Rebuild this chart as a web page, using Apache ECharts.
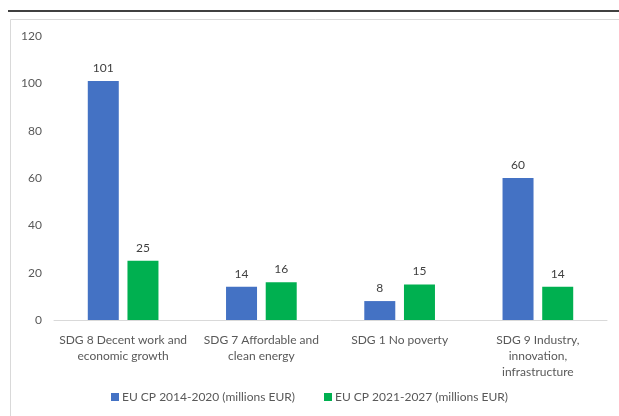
<!DOCTYPE html>
<html><head><meta charset="utf-8">
<script src="https://cdn.jsdelivr.net/npm/echarts@6/dist/echarts.min.js"></script>
<style>html,body{margin:0;padding:0;background:#fff}#c{width:619px;height:416px}</style>
</head><body><div id="c"></div>
<script>
var categories = ["SDG 8 Decent work and\neconomic growth", "SDG 7 Affordable and\nclean energy", "SDG 1 No poverty", "SDG 9 Industry,\ninnovation,\ninfrastructure"];
var series2014 = [101, 14, 8, 60];
var series2021 = [25, 16, 15, 14];
var seriesNames = ["EU CP 2014-2020 (millions EUR)", "EU CP 2021-2027 (millions EUR)"];
var yTicks = {min: 0, max: 120, interval: 20};

var chart = echarts.init(document.getElementById('c'));
var font = 'Lato, "Open Sans", sans-serif';
chart.setOption({
  animation: false,
  textStyle: {fontFamily: font},
  graphic: [
    {type: 'line', shape: {x1: 8, y1: 11, x2: 619, y2: 11}, style: {stroke: '#000', lineWidth: 1.5}},
    {type: 'rect', shape: {x: 10.5, y: 19.5, width: 700, height: 500}, style: {fill: 'none', stroke: '#d9d9d9', lineWidth: 1}}
  ],
  grid: {left: 54, right: 12, top: 36, bottom: 96},
  legend: {
    bottom: 8, left: 'center',
    itemWidth: 8, itemHeight: 8, itemGap: 29,
    icon: 'rect',
    textStyle: {color: '#595959', fontSize: 12, fontFamily: font, padding: [0, 0, 0, -2]},
    data: seriesNames
  },
  xAxis: {
    type: 'category', data: categories,
    axisLine: {lineStyle: {color: '#d9d9d9', width: 1}},
    axisTick: {show: false},
    axisLabel: {color: '#595959', fontSize: 12, lineHeight: 16, margin: 12, interval: 0, fontFamily: font}
  },
  yAxis: {
    type: 'value', min: yTicks.min, max: yTicks.max, interval: yTicks.interval,
    splitLine: {show: false},
    axisLine: {show: false}, axisTick: {show: false},
    axisLabel: {color: '#595959', fontSize: 12, margin: 12, fontFamily: font}
  },
  series: [
    {name: seriesNames[0], type: 'bar', data: series2014, barWidth: 31, barGap: '28%',
     itemStyle: {color: '#4472C4'},
     label: {show: true, position: 'top', color: '#404040', fontSize: 12, distance: 7, fontFamily: font}},
    {name: seriesNames[1], type: 'bar', data: series2021, barWidth: 31,
     itemStyle: {color: '#00B050'},
     label: {show: true, position: 'top', color: '#404040', fontSize: 12, distance: 7, fontFamily: font}}
  ]
});
</script></body></html>
